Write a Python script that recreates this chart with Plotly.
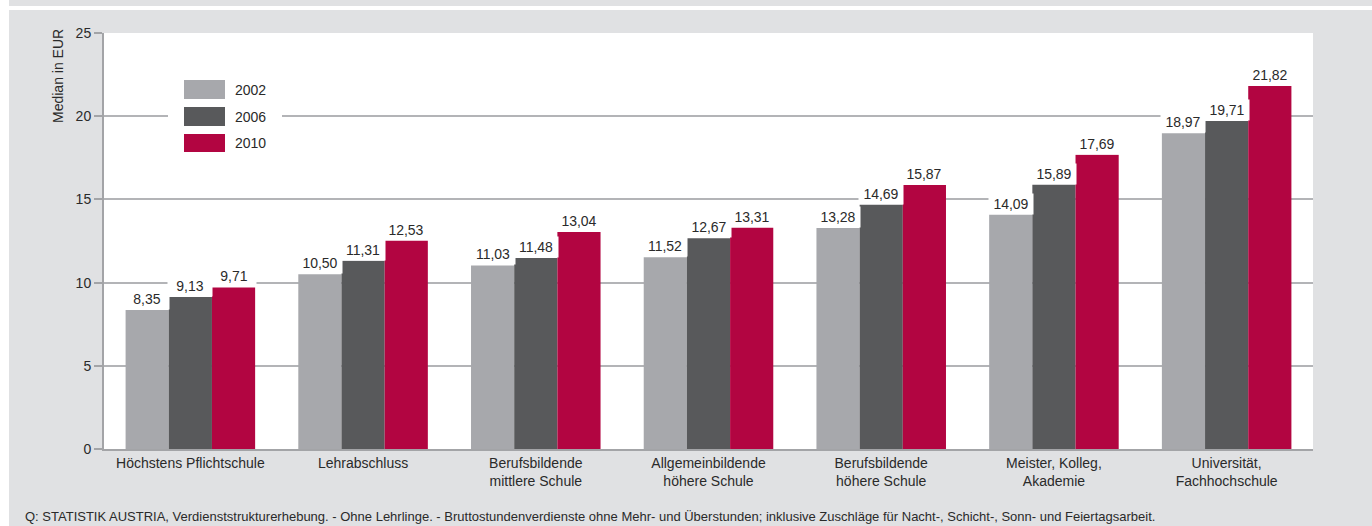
import plotly.graph_objects as go

categories = ["Höchstens Pflichtschule", "Lehrabschluss", "Berufsbildende<br>mittlere Schule",
              "Allgemeinbildende<br>höhere Schule", "Berufsbildende<br>höhere Schule",
              "Meister, Kolleg,<br>Akademie", "Universität,<br>Fachhochschule"]
years = ["2002", "2006", "2010"]
v2002 = [8.35, 10.50, 11.03, 11.52, 13.28, 14.09, 18.97]
v2006 = [9.13, 11.31, 11.48, 12.67, 14.69, 15.89, 19.71]
v2010 = [9.71, 12.53, 13.04, 13.31, 15.87, 17.69, 21.82]
series = [v2002, v2006, v2010]
colors = ["#A7A8AC", "#58595B", "#B20541"]

W, H = 1372, 526
L, R, T, B = 104, 59, 33, 77
PW, PH = W - L - R, H - T - B
FONT = "Liberation Sans, Arial, sans-serif"
TXT = "#2a2a2a"
BG = "#E0E1E3"

def px(x):
    return (x - L) / PW

def py(y):
    return (H - B - y) / PH

fig = go.Figure()
for name, vals, c in zip(years, series, colors):
    fig.add_trace(go.Bar(x=categories, y=vals, name=name, marker_color=c,
                         marker_line_width=0, showlegend=False))

annotations = []
bar_px = PW / len(categories) * 0.75 / 3
for k, vals in enumerate(series):
    for cat, v in zip(categories, vals):
        annotations.append(dict(
            x=cat, y=v, xref="x", yref="y", text=f"{v:.2f}".replace(".", ","),
            showarrow=False, yanchor="bottom", xanchor="center",
            xshift=(k - 1) * bar_px, bgcolor="white", borderpad=2, width=40,
            font=dict(family=FONT, size=14, color=TXT)))

# y axis title
annotations.append(dict(x=px(58), y=py(76), xref="paper", yref="paper", text="Median in EUR",
                        textangle=-90, showarrow=False, xanchor="center", yanchor="middle",
                        font=dict(family=FONT, size=14, color=TXT)))
# footnote
annotations.append(dict(x=px(23), y=py(516), xref="paper", yref="paper",
                        text="Q: STATISTIK AUSTRIA, Verdienststrukturerhebung. - Ohne Lehrlinge. - Bruttostundenverdienste ohne Mehr- und Überstunden; inklusive Zuschläge für Nacht-, Schicht-, Sonn- und Feiertagsarbeit.",
                        showarrow=False, xanchor="left", yanchor="middle",
                        font=dict(family=FONT, size=13, color=TXT)))

shapes = [
    dict(type="rect", xref="paper", yref="paper", x0=px(0), x1=px(9), y0=py(0), y1=py(H),
         fillcolor="white", line_width=0, layer="below"),
    dict(type="rect", xref="paper", yref="paper", x0=px(9), x1=px(W), y0=py(6), y1=py(10),
         fillcolor="white", line_width=0, layer="below"),
    # legend background
    dict(type="rect", xref="paper", yref="paper", x0=px(168), x1=px(282), y0=py(74), y1=py(158),
         fillcolor="white", line_width=0, layer="above"),
]
rows = [(80, 99), (107, 126), (134, 152)]
for (y0, y1), name, c in zip(rows, years, colors):
    shapes.append(dict(type="rect", xref="paper", yref="paper", x0=px(184), x1=px(225),
                       y0=py(y1), y1=py(y0), fillcolor=c, line_width=0, layer="above"))
    annotations.append(dict(x=px(233), y=py((y0 + y1) / 2), xref="paper", yref="paper",
                            text=name, showarrow=False, xanchor="left", yanchor="middle",
                            font=dict(family=FONT, size=14, color=TXT)))

fig.update_layout(
    width=W, height=H, margin=dict(l=L, r=R, t=T, b=B),
    paper_bgcolor=BG, plot_bgcolor="white",
    barmode="group", bargap=0.25, bargroupgap=0,
    font=dict(family=FONT, size=14, color=TXT),
    annotations=annotations, shapes=shapes,
    xaxis=dict(showgrid=False, showline=True, linecolor="#A3A4A7", linewidth=2,
               ticks="", tickfont=dict(family=FONT, size=14, color=TXT)),
    yaxis=dict(range=[0, 25], dtick=5, showgrid=True, gridcolor="#B3B4B7", gridwidth=1.5,
               zeroline=False, showline=True, linecolor="#A3A4A7", linewidth=2,
               ticks="outside", ticklen=8, tickcolor="#A3A4A7", tickwidth=1.5,
               tickfont=dict(family=FONT, size=14, color=TXT)),
)

fig.write_html("out.html")
